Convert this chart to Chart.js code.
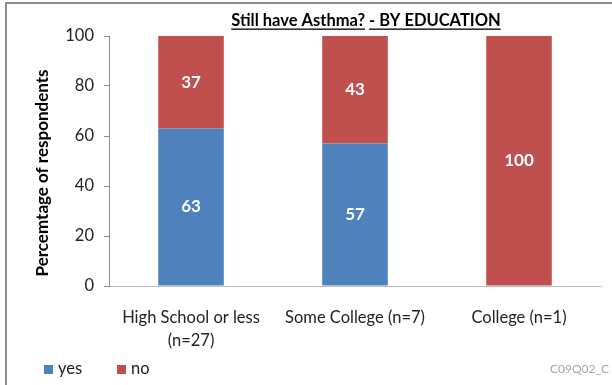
<!DOCTYPE html>
<html>
<head>
<meta charset="utf-8">
<script src="https://cdn.jsdelivr.net/npm/chart.js@4.4.1/dist/chart.umd.min.js"></script>
<style>
  html, body { margin: 0; padding: 0; background: #fff; }
  #wrap { position: relative; width: 612px; height: 385px; }
</style>
</head>
<body>
<div id="wrap"><canvas id="chart" width="612" height="385"></canvas></div>
<script>
// Still have Asthma? - BY EDUCATION

const categories = [['High School or less', '(n=27)'], 'Some College (n=7)', 'College (n=1)'];
const yesValues = [63, 57, 0];
const noValues = [37, 43, 100];
const seriesNames = ['yes', 'no'];
const yTickStep = 20;

const FONT = 'Lato, "Open Sans", sans-serif';

// white value labels in the middle of each segment
const valueLabels = {
    id: 'valueLabels',
    afterDatasetsDraw(chart) {
        const ctx = chart.ctx;
        ctx.save();
        ctx.fillStyle = '#fff';
        ctx.font = 'bold 17px ' + FONT;
        ctx.textAlign = 'center';
        ctx.textBaseline = 'middle';
        chart.data.datasets.forEach((ds, i) => {
            chart.getDatasetMeta(i).data.forEach((bar, j) => {
                const v = ds.data[j];
                if (!v) return;
                ctx.fillText(String(v), bar.x, (bar.y + bar.base) / 2);
            });
        });
        ctx.restore();
    }
};

// underlined title, y title, legend, frame and the code in the corner
const decorations = {
    id: 'decorations',
    afterDraw(chart) {
        const ctx = chart.ctx;
        ctx.save();
        // frame (top and left edges visible)
        ctx.strokeStyle = '#8c8c8c';
        ctx.lineWidth = 2;
        ctx.beginPath();
        ctx.moveTo(6, 385);
        ctx.lineTo(6, 3);
        ctx.lineTo(612, 3);
        ctx.stroke();

        // title
        ctx.font = 'bold 16.5px ' + FONT;
        ctx.fillStyle = '#000';
        ctx.textBaseline = 'alphabetic';
        const a = 'Still have Asthma?';
        const b = '- BY EDUCATION';
        const sp = ctx.measureText(' ').width;
        const wa = ctx.measureText(a).width;
        const wb = ctx.measureText(b).width;
        const x0 = 366 - (wa + sp + wb) / 2;
        const base = 26;
        ctx.fillText(a, x0, base);
        ctx.fillText(b, x0 + wa + sp, base);
        ctx.fillRect(x0, base + 2.5, wa, 1.3);
        ctx.fillRect(x0 + wa + sp, base + 2.5, wb, 1.3);

        // y axis title
        ctx.save();
        ctx.translate(43, 173);
        ctx.rotate(-Math.PI / 2);
        ctx.font = 'bold 17px ' + FONT;
        ctx.textAlign = 'center';
        ctx.textBaseline = 'middle';
        ctx.fillText('Percemtage of respondents', 0, 0);
        ctx.restore();

        // legend
        ctx.font = '16.5px ' + FONT;
        ctx.textBaseline = 'middle';
        ctx.textAlign = 'left';
        const legendX = [44, 117];
        chart.data.datasets.forEach((ds, i) => {
            ctx.fillStyle = ds.backgroundColor;
            ctx.fillRect(legendX[i], 365, 9, 9);
            ctx.fillStyle = '#222';
            ctx.fillText(ds.label, legendX[i] + 14, 369);
        });

        // code
        ctx.font = '12px ' + FONT;
        ctx.fillStyle = '#a6a6a6';
        ctx.textAlign = 'right';
        ctx.fillText('C09Q02_C', 609, 369);
        ctx.restore();
    }
};

new Chart(document.getElementById('chart'), {
    type: 'bar',
    data: {
        labels: categories,
        datasets: [
            {
                label: seriesNames[0],
                data: yesValues,
                backgroundColor: '#4F81BD',
                borderWidth: 0,
                barPercentage: 0.4,
                categoryPercentage: 1
            },
            {
                label: seriesNames[1],
                data: noValues,
                backgroundColor: '#C0504D',
                borderWidth: 0,
                barPercentage: 0.4,
                categoryPercentage: 1
            }
        ]
    },
    options: {
        responsive: false,
        animation: false,
        layout: {
            padding: { top: 36, left: 60, right: 11, bottom: 29 }
        },
        plugins: {
            title: { display: false },
            tooltip: { enabled: false },
            legend: { display: false }
        },
        scales: {
            x: {
                stacked: true,
                grid: { display: false, drawTicks: false },
                border: { color: '#bfbfbf', width: 1 },
                ticks: {
                    color: '#222',
                    font: { family: FONT, size: 16.5, lineHeight: 1.35 },
                    padding: 21,
                    maxRotation: 0,
                    autoSkip: false
                },
                afterFit(scale) { scale.height = 70; }
            },
            y: {
                stacked: true,
                min: 0,
                max: 100,
                grid: {
                    drawOnChartArea: false,
                    drawTicks: true,
                    tickLength: 5,
                    color: '#8c8c8c'
                },
                border: { color: '#8c8c8c', width: 1 },
                ticks: {
                    stepSize: yTickStep,
                    color: '#222',
                    font: { family: FONT, size: 16.5 },
                    padding: 10
                },
                afterFit(scale) { scale.width = 49; }
            }
        }
    },
    plugins: [valueLabels, decorations]
});
</script>
</body>
</html>
